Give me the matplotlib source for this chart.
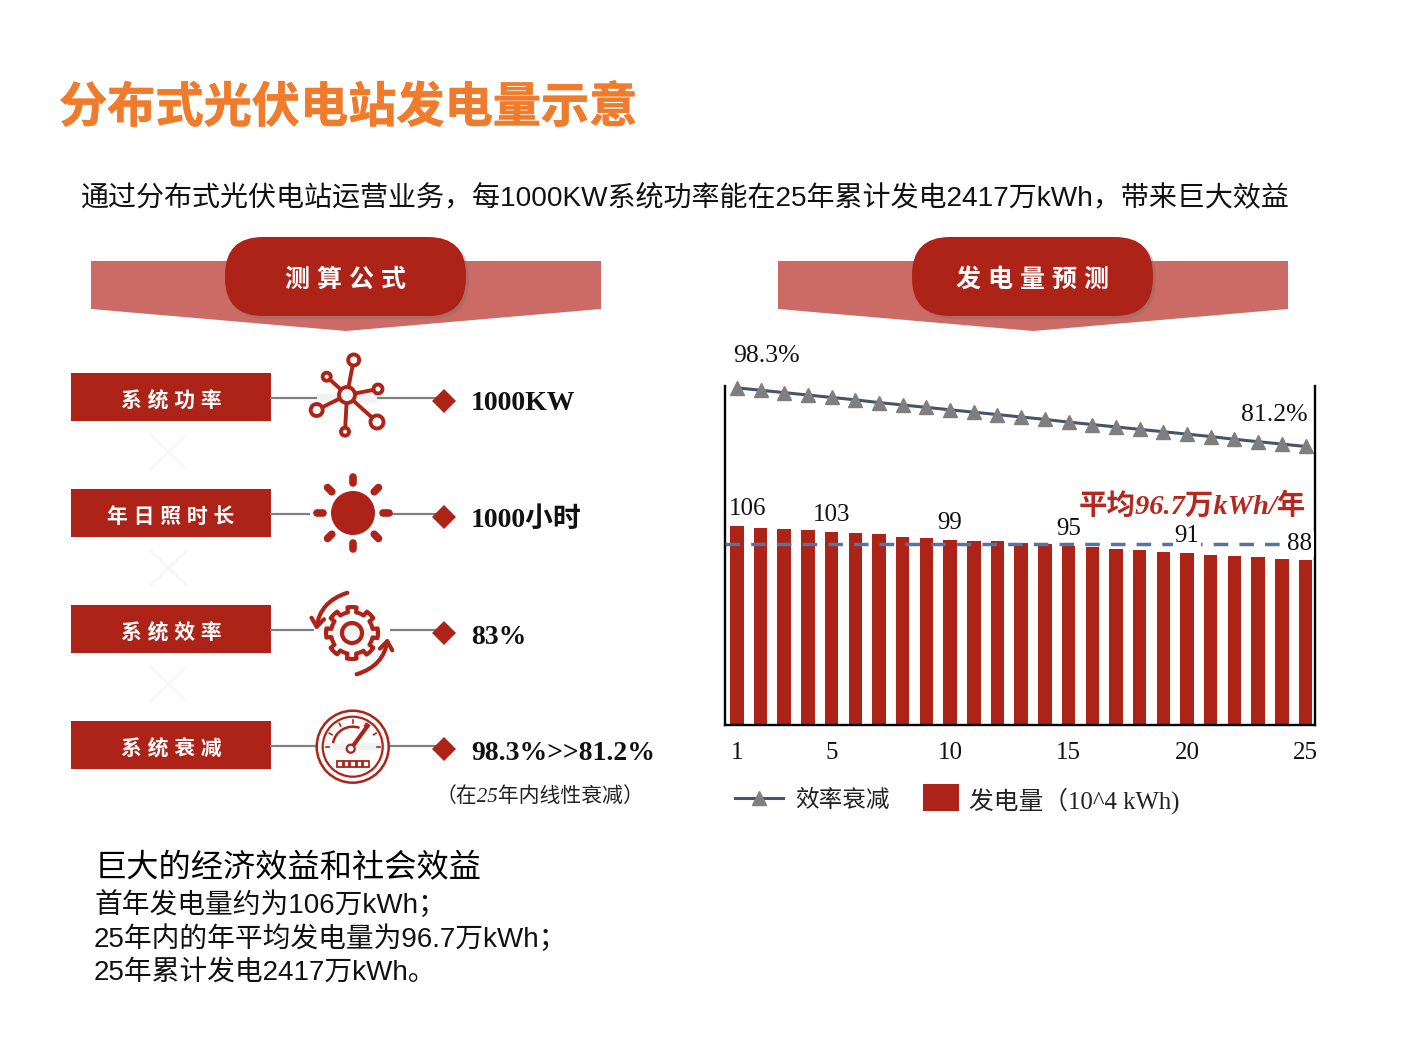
import numpy as np
import matplotlib
matplotlib.use("Agg")
import matplotlib.pyplot as plt
import matplotlib.patheffects as pe
from matplotlib.patches import Polygon, Rectangle, FancyBboxPatch, Circle, Arc, FancyArrowPatch

plt.rcParams['font.family'] = ['Liberation Sans', 'Noto Sans CJK SC', 'DejaVu Sans']

years = list(range(1, 26))
power = [106.2, 105.2, 104.6, 104.1, 103.0, 102.3, 101.8, 100.5, 100.0, 98.9, 98.4, 97.9, 97.0,
         96.3, 95.7, 94.7, 94.1, 93.6, 92.3, 91.8, 90.7, 90.2, 89.5, 88.4, 87.9]
efficiency = [98.3, 97.6, 96.9, 96.2, 95.5, 94.8, 94.0, 93.3, 92.6, 91.9, 91.2, 90.5, 89.8,
              89.1, 88.3, 87.6, 86.9, 86.2, 85.5, 84.8, 84.1, 83.3, 82.6, 81.9, 81.2]
average = 96.7
xticks = [1, 5, 10, 15, 20, 25]
label_years = [1, 5, 10, 15, 20, 25]
label_texts = ['106', '103', '99', '95', '91', '88']
box_labels = ['系统功率', '年日照时长', '系统效率', '系统衰减']
box_values = ['1000KW', '1000小时', '83%', '98.3%>>81.2%']

W, H = 1416, 1048
RED = '#AE2318'
SERIF = ['Liberation Serif', 'Noto Sans CJK SC']
SANS = ['Liberation Sans', 'Noto Sans CJK SC']

fig = plt.figure(figsize=(W / 100, H / 100), dpi=100)

# overlay in pixel coordinates for all the slide decoration
bg = fig.add_axes([0, 0, 1, 1])
bg.set_xlim(0, W)
bg.set_ylim(H, 0)
bg.axis('off')

bg.text(59, 109, '分布式光伏电站发电量示意', fontsize=34.7, fontweight='bold', color='#EF7B2D',
        va='center', family=SANS,
        path_effects=[pe.withStroke(linewidth=0.5, foreground='#EF7B2D')])
bg.text(81, 198, '通过分布式光伏电站运营业务，每1000KW系统功率能在25年累计发电2417万kWh，带来巨大效益',
        fontsize=20.2, va='center', color='#111111', family=SANS)


def banner(x0, title):
    bg.add_patch(Polygon([(x0, 261), (x0 + 510, 261), (x0 + 510, 309), (x0 + 255, 331), (x0, 309)],
                         fc='#CC6B66', ec='none'))
    px, pw = x0 + 134, 241
    bg.add_patch(FancyBboxPatch((px + 3, 240), pw, 79, boxstyle='round,pad=0,rounding_size=38',
                                fc='#8A6A66', ec='none', alpha=0.4))
    bg.add_patch(FancyBboxPatch((px, 237), pw, 79, boxstyle='round,pad=0,rounding_size=38',
                                fc=RED, ec='none'))
    bg.text(px + pw / 2, 280, title, color='white', fontsize=18, ha='center', va='center',
            family=SANS, fontweight='bold')


banner(91, '测 算 公 式')
banner(778, '发 电 量 预 测')

box_tops = [373, 489, 605, 721]
line_ys = [398, 514, 630, 746]
for i, top in enumerate(box_tops):
    bg.add_patch(Rectangle((71, top), 200, 48, fc=RED, ec='none'))
    spaced = ' '.join(box_labels[i])
    bg.text(171, top + 28, spaced, color='white', fontsize=15, ha='center', va='center', family=SANS,
            fontweight='bold')
    bg.plot([271, 440], [line_ys[i]] * 2, color='#808080', lw=1.6, zorder=1)
    dy = line_ys[i] + 3
    bg.add_patch(Polygon([(432, dy), (444, dy - 12), (456, dy), (444, dy + 12)], fc=RED, ec='none'))
    # faint watermark crosses between the boxes
    if i < 3:
        yc = top + 79
        bg.plot([151, 186], [yc - 17, yc + 17], color='#F8F8F8', lw=2)
        bg.plot([151, 186], [yc + 17, yc - 17], color='#F8F8F8', lw=2)

value_ys = [404, 520, 637, 753]
for v, y in zip(box_values, value_ys):
    bg.text(471, y, v, fontsize=20, fontweight='bold', va='center', family=SERIF, color='#111111')
bg.text(436, 797, '（在25年内线性衰减）', fontsize=15, va='center', color='#222222', family=SERIF,
        style='italic')

# icon 1: network
cx, cy = 347, 395
bg.add_patch(Rectangle((317, 394), 60, 9, fc='#F2F2F2', ec='none', zorder=2))
nodes = [(353.7, 360, 5.5), (326.7, 376.7, 4), (378, 389, 4.5), (316.7, 410, 6), (377, 422, 6.5), (345, 431.7, 4)]
for nx, ny, r in nodes:
    bg.plot([cx, nx], [cy, ny], color=RED, lw=2.8, zorder=3)
    bg.add_patch(Circle((nx, ny), r, fc='white', ec=RED, lw=2.8, zorder=4))
bg.add_patch(Circle((cx, cy), 8, fc='#F6F6F6', ec=RED, lw=2.8, zorder=4))

# icon 2: sun
sx, sy = 353, 513
bg.add_patch(Rectangle((310, 510), 80, 8, fc='white', ec='none', zorder=2))
bg.add_patch(Circle((sx, sy), 22, fc=RED, ec='none', zorder=3))
for a in np.deg2rad(np.arange(0, 360, 45)):
    bg.plot([sx + 30 * np.cos(a), sx + 36 * np.cos(a)], [sy + 30 * np.sin(a), sy + 36 * np.sin(a)],
            color=RED, lw=5.5, solid_capstyle='round', zorder=3)

# icon 3: gear with arrows
gx, gy = 352, 633
bg.add_patch(Circle((gx, gy), 38, fc='white', ec='none', zorder=2))
bg.add_patch(Rectangle((325, 628), 55, 9, fc='#F2F2F2', ec='none', zorder=2))
ang = np.linspace(0, 2 * np.pi, 321)
rad = 21 + 5 * (np.cos(8 * ang) > 0)
bg.plot(gx + rad * np.cos(ang), gy + rad * np.sin(ang), color=RED, lw=3, zorder=3)
bg.add_patch(Circle((gx, gy), 10, fc='none', ec=RED, lw=3, zorder=3))
bg.add_patch(FancyArrowPatch((350, 592), (316, 633), connectionstyle='arc3,rad=0.35', arrowstyle='->,head_length=6,head_width=4.5',
                             color=RED, lw=3, zorder=3))
bg.add_patch(FancyArrowPatch((354, 675), (388, 635), connectionstyle='arc3,rad=0.35', arrowstyle='->,head_length=6,head_width=4.5',
                             color=RED, lw=3, zorder=3))

# icon 4: gauge
mx, my = 352.7, 746.7
bg.add_patch(Circle((mx, my), 36, fc='white', ec=RED, lw=1.8, zorder=3))
bg.add_patch(Circle((mx, my), 30, fc='white', ec=RED, lw=1.6, zorder=3))
bg.add_patch(Rectangle((326, 743), 54, 7, fc='#F2F2F2', ec='none', zorder=3))
for a in np.deg2rad(np.arange(180, 361, 30)):
    bg.plot([mx + 24 * np.cos(a), mx + 27 * np.cos(a)], [my + 24 * np.sin(a), my + 27 * np.sin(a)],
            color=RED, lw=1.2, zorder=4)
bg.add_patch(Arc((mx, my), 40, 40, theta1=190, theta2=290, ec=RED, lw=1.8, zorder=4))
bg.plot([mx - 1, mx + 15], [my + 1, my - 21], color=RED, lw=3, zorder=4)
bg.add_patch(Circle((mx - 2, my + 2), 4, fc='white', ec=RED, lw=1.6, zorder=5))
for k in range(5):
    bg.add_patch(Rectangle((337 + k * 6.5, 761), 5.5, 6, fc='white', ec=RED, lw=1.3, zorder=4))

# bottom text
bg.text(95, 869, '巨大的经济效益和社会效益', fontsize=23.2, va='center', color='black', family=SANS)
bg.text(94, 905, '首年发电量约为106万kWh；', fontsize=20, va='center', color='#111111', family=SANS)
bg.text(94, 939, '25年内的年平均发电量为96.7万kWh；', fontsize=20, va='center', color='#111111', family=SANS)
bg.text(94, 973, '25年累计发电2417万kWh。', fontsize=20, va='center', color='#111111', family=SANS)

# the chart itself
left, right, top, bottom = 725, 1315, 386, 725
ax = fig.add_axes([left / W, 1 - bottom / H, (right - left) / W, (bottom - top) / H])
ax.patch.set_alpha(0)
ax.bar(years, power, width=0.57, color=RED, zorder=2)
ax.plot([0.5, 24.35], [average, average], color='#5873A0', lw=2.5, dashes=(4.2, 3.2), zorder=3)
ax.set_xlim(0.5, 25.4)
ax.set_ylim(0, (bottom - top) / 1.875)
ax.set_xticks(xticks)
ax.set_xticklabels(xticks, family=SERIF, fontsize=18, color='#111111')
ax.set_yticks([])
ax.tick_params(axis='x', length=0, pad=12)
ax.spines['top'].set_visible(False)
for s in ['left', 'right', 'bottom']:
    ax.spines[s].set_linewidth(1.7)
    ax.spines[s].set_color('black')

for yr, txt in zip(label_years, label_texts):
    val = power[yr - 1]
    dx = 8 if yr == 1 else (-4 if yr == 25 else 0)
    white = yr in (20, 25)
    ax.annotate(txt, (yr, val), xytext=(dx, 12), textcoords='offset points', ha='center', va='center',
                family=SERIF, fontsize=18, color='#111111', zorder=5,
                bbox=dict(fc='white', ec='none', pad=1.5) if white else None)

ax2 = ax.twinx()
ax2.plot(years, efficiency, color='#44546A', lw=2.2, marker='^', ms=10, mfc='#7F7F7F', mec='#7F7F7F',
         clip_on=False, zorder=4)
ax2.set_ylim(0, (bottom - top) / 3.43)
ax2.set_yticks([])
for s in ['top', 'left', 'right', 'bottom']:
    ax2.spines[s].set_visible(False)

bg.text(766, 356, '98.3%', family=SERIF, fontsize=18.5, ha='center', va='center', color='#111111')
bg.text(1274, 415, '81.2%', family=SERIF, fontsize=18.5, ha='center', va='center', color='#111111')
bg.text(1306, 506, '平均96.7万kWh/年', family=SERIF, fontsize=20.5, fontweight='bold', style='italic',
        ha='right', va='center', color='#B5281E', zorder=6)

# legend
bg.plot([735, 783], [798, 798], color='#44546A', lw=2.2)
bg.plot([759], [798], marker='^', ms=10, color='#7F7F7F')
bg.text(795, 801, '效率衰减', family=SANS, fontsize=17, va='center', color='#222222')
bg.add_patch(Rectangle((923, 784), 36, 27, fc=RED, ec='none'))
bg.text(969, 801, '发电量（10^4 kWh)', family=SERIF, fontsize=17.8, va='center', color='#222222')

fig.savefig('out.png', dpi=100)
